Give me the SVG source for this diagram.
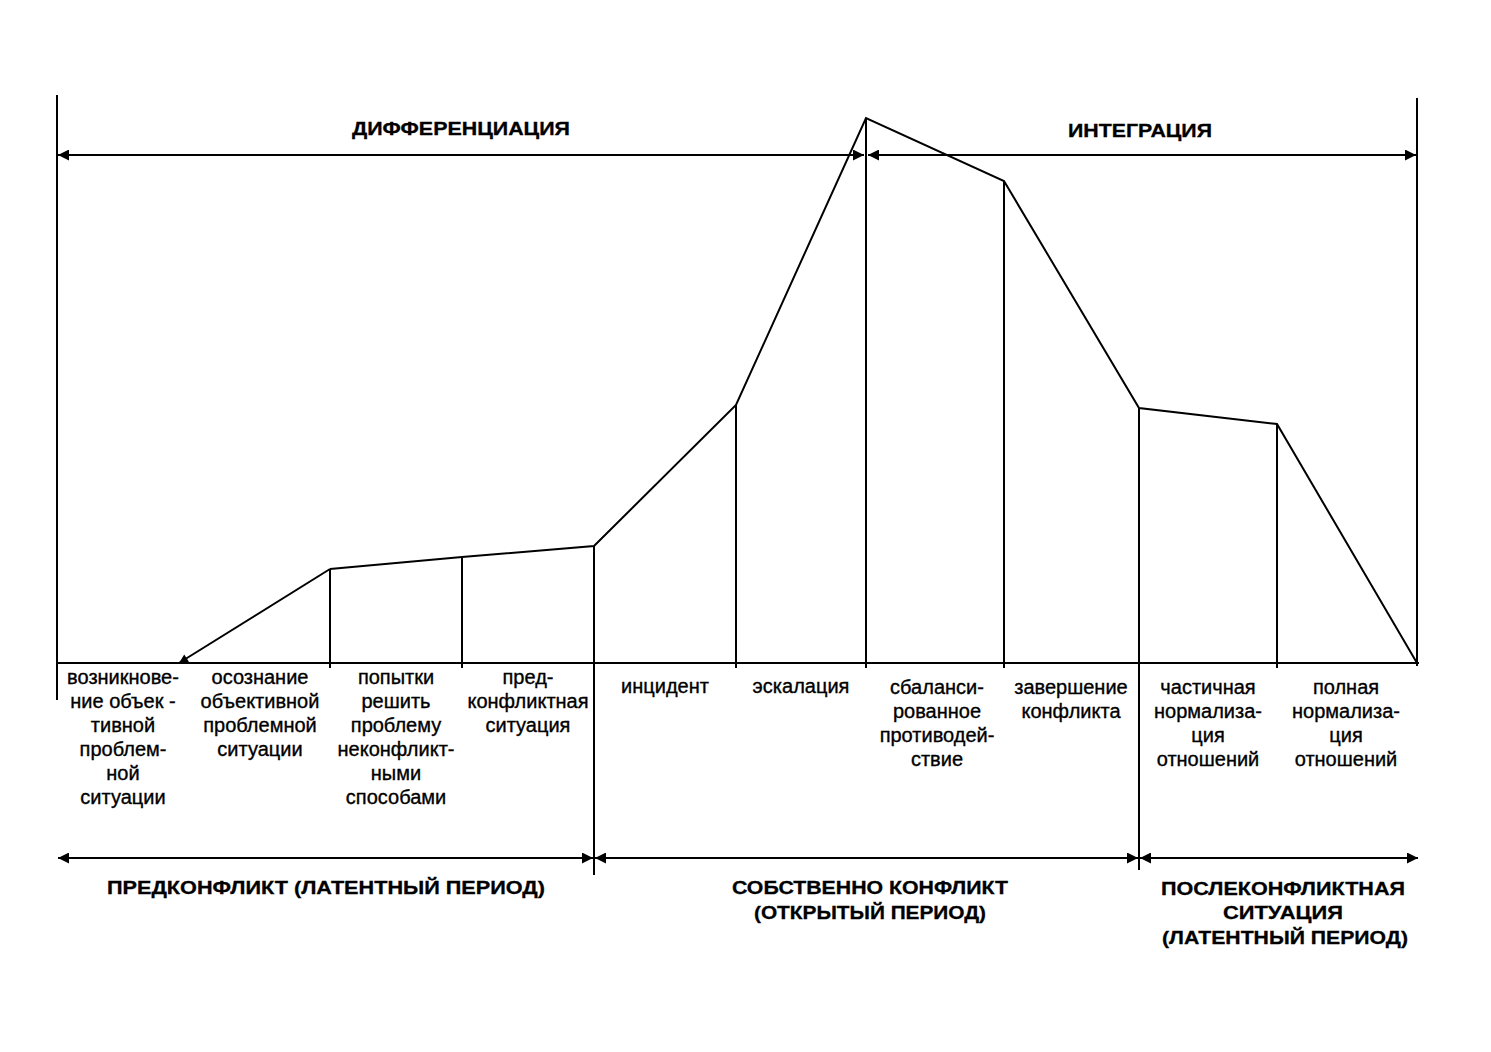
<svg xmlns="http://www.w3.org/2000/svg" width="1491" height="1052" viewBox="0 0 1491 1052">
<style>
.ln{stroke:#000;stroke-width:2;fill:none}
.t{font-family:"Liberation Sans",Arial,sans-serif;font-size:20px;fill:#000;stroke:#000;stroke-width:0.35;text-anchor:middle}
.h{font-family:"Liberation Sans",Arial,sans-serif;font-size:19px;font-weight:bold;fill:#000;stroke:#000;stroke-width:0.3;text-anchor:middle}
</style>
<defs>
<marker id="ah" viewBox="0 0 10 10" refX="10" refY="5" markerWidth="15" markerHeight="11" markerUnits="userSpaceOnUse" orient="auto-start-reverse">
<path d="M0,0 L10,5 L0,10 z" fill="#000"/>
</marker>
<marker id="as" viewBox="0 0 10 10" refX="10" refY="5" markerWidth="12" markerHeight="9" markerUnits="userSpaceOnUse" orient="auto">
<path d="M0,0 L10,5 L0,10 z" fill="#000"/>
</marker>
</defs>
<rect width="1491" height="1052" fill="#fff"/>
<g id="connectors">
<line class="ln" x1="57" y1="95" x2="57" y2="700"/>
<line class="ln" x1="1417" y1="98" x2="1417" y2="666"/>
<line class="ln" x1="57" y1="663" x2="1419" y2="663"/>
<polyline class="ln" points="330,569 462,557 594,546 736,405 866,118 1004,181 1139,408 1277,424 1417,663"/>
<line class="ln" x1="330" y1="569" x2="179" y2="663" marker-end="url(#as)"/>
<line class="ln" x1="330" y1="569" x2="330" y2="668"/>
<line class="ln" x1="462" y1="557" x2="462" y2="668"/>
<line class="ln" x1="594" y1="546" x2="594" y2="875"/>
<line class="ln" x1="736" y1="405" x2="736" y2="668"/>
<line class="ln" x1="866" y1="118" x2="866" y2="668"/>
<line class="ln" x1="1004" y1="181" x2="1004" y2="668"/>
<line class="ln" x1="1139" y1="408" x2="1139" y2="870"/>
<line class="ln" x1="1277" y1="424" x2="1277" y2="668"/>
<line class="ln" x1="58" y1="155" x2="864" y2="155" marker-start="url(#ah)" marker-end="url(#ah)"/>
<line class="ln" x1="868" y1="155" x2="1416" y2="155" marker-start="url(#ah)" marker-end="url(#ah)"/>
<line class="ln" x1="58" y1="858" x2="593" y2="858" marker-start="url(#ah)" marker-end="url(#ah)"/>
<line class="ln" x1="595" y1="858" x2="1138" y2="858" marker-start="url(#ah)" marker-end="url(#ah)"/>
<line class="ln" x1="1140" y1="858" x2="1418" y2="858" marker-start="url(#ah)" marker-end="url(#ah)"/>
</g>
<g id="title-diff"><text class="h" x="461" y="135" textLength="218" lengthAdjust="spacingAndGlyphs">ДИФФЕРЕНЦИАЦИЯ</text></g>
<g id="title-integr"><text class="h" x="1140" y="137" textLength="144" lengthAdjust="spacingAndGlyphs">ИНТЕГРАЦИЯ</text></g>
<g id="stage1"><text class="t" x="123" y="684">возникнове-<tspan x="123" dy="24">ние объек -</tspan><tspan x="123" dy="24">тивной</tspan><tspan x="123" dy="24">проблем-</tspan><tspan x="123" dy="24">ной</tspan><tspan x="123" dy="24">ситуации</tspan></text></g>
<g id="stage2"><text class="t" x="260" y="684">осознание<tspan x="260" dy="24">объективной</tspan><tspan x="260" dy="24">проблемной</tspan><tspan x="260" dy="24">ситуации</tspan></text></g>
<g id="stage3"><text class="t" x="396" y="684">попытки<tspan x="396" dy="24">решить</tspan><tspan x="396" dy="24">проблему</tspan><tspan x="396" dy="24">неконфликт-</tspan><tspan x="396" dy="24">ными</tspan><tspan x="396" dy="24">способами</tspan></text></g>
<g id="stage4"><text class="t" x="528" y="684">пред-<tspan x="528" dy="24">конфликтная</tspan><tspan x="528" dy="24">ситуация</tspan></text></g>
<g id="stage5"><text class="t" x="665" y="693">инцидент</text></g>
<g id="stage6"><text class="t" x="801" y="693">эскалация</text></g>
<g id="stage7"><text class="t" x="937" y="694">сбаланси-<tspan x="937" dy="24">рованное</tspan><tspan x="937" dy="24">противодей-</tspan><tspan x="937" dy="24">ствие</tspan></text></g>
<g id="stage8"><text class="t" x="1071" y="694">завершение<tspan x="1071" dy="24">конфликта</tspan></text></g>
<g id="stage9"><text class="t" x="1208" y="694">частичная<tspan x="1208" dy="24">нормализа-</tspan><tspan x="1208" dy="24">ция</tspan><tspan x="1208" dy="24">отношений</tspan></text></g>
<g id="stage10"><text class="t" x="1346" y="694">полная<tspan x="1346" dy="24">нормализа-</tspan><tspan x="1346" dy="24">ция</tspan><tspan x="1346" dy="24">отношений</tspan></text></g>
<g id="period1"><text class="h" x="326" y="894" textLength="438" lengthAdjust="spacingAndGlyphs">ПРЕДКОНФЛИКТ (ЛАТЕНТНЫЙ ПЕРИОД)</text></g>
<g id="period2"><text class="h" x="870" y="894" textLength="276" lengthAdjust="spacingAndGlyphs">СОБСТВЕННО КОНФЛИКТ</text><text class="h" x="870" y="919" textLength="232" lengthAdjust="spacingAndGlyphs">(ОТКРЫТЫЙ ПЕРИОД)</text></g>
<g id="period3"><text class="h" x="1283" y="895" textLength="244" lengthAdjust="spacingAndGlyphs">ПОСЛЕКОНФЛИКТНАЯ</text><text class="h" x="1283" y="919" textLength="120" lengthAdjust="spacingAndGlyphs">СИТУАЦИЯ</text><text class="h" x="1285" y="944" textLength="246" lengthAdjust="spacingAndGlyphs">(ЛАТЕНТНЫЙ ПЕРИОД)</text></g>
</svg>
